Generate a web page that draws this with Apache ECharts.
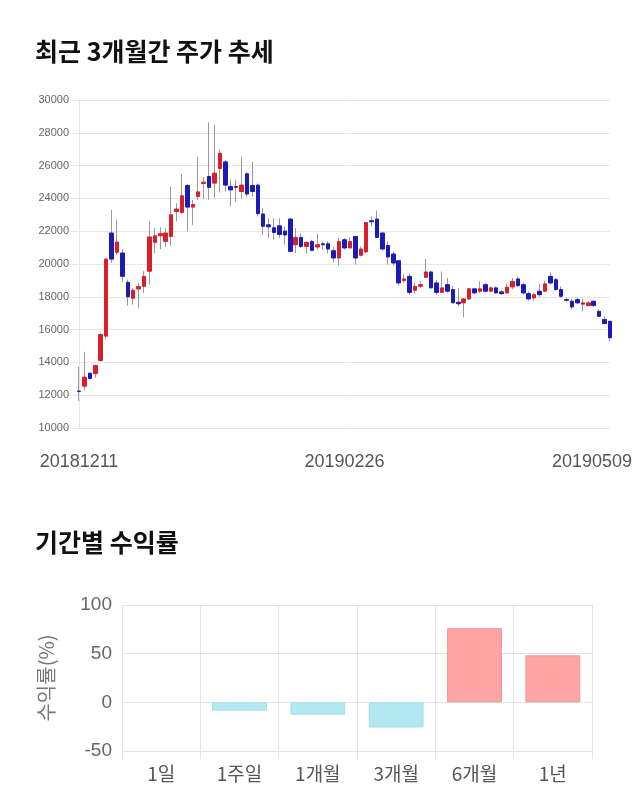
<!DOCTYPE html>
<html>
<head>
<meta charset="utf-8">
<script src="https://cdn.jsdelivr.net/npm/echarts@6/dist/echarts.min.js"></script>
<style>
html,body{margin:0;padding:0;background:#fff;}
#main{width:640px;height:810px;}
</style>
</head>
<body>
<div id="main"></div>
<script>
// ---- Candlestick data (KRW) ----
var dates = [
'20181211','20181212','20181213','20181214','20181217','20181218','20181219','20181220','20181221','20181224','20181226','20181227','20181228',
'20190102','20190103','20190104','20190107','20190108','20190109','20190110','20190111','20190114','20190115','20190116','20190117','20190118','20190121','20190122','20190123','20190124','20190125','20190128','20190129','20190130','20190131',
'20190201','20190207','20190208','20190211','20190212','20190213','20190214','20190215','20190218','20190219','20190220','20190221','20190222','20190225','20190226','20190227','20190228',
'20190304','20190305','20190306','20190307','20190308','20190311','20190312','20190313','20190314','20190315','20190318','20190319','20190320','20190321','20190322','20190325','20190326','20190327','20190328','20190329',
'20190401','20190402','20190403','20190404','20190405','20190408','20190409','20190410','20190411','20190412','20190415','20190416','20190417','20190418','20190419','20190422','20190423','20190424','20190425','20190426','20190429','20190430',
'20190502','20190503','20190507','20190508','20190509'
];
var opens  = [12250,12550,13340,13310,14115,15600,21890,20710,20670,18880,17910,18480,18640,19560,21320,21720,21380,21680,23200,23140,24790,23470,24115,24905,25335,24930,25825,26225,24730,24720,24420,25500,24785,24810,23050,22390,22210,22330,22010,22740,21175,21620,21070,21375,21035,21235,21235,20810,20365,21480,20975,21680,20530,20740,22640,22740,21890,21130,20610,20200,18985,19250,18395,18640,19185,19515,18845,18270,18740,18440,17670,17630,17870,18485,18340,18740,18340,18545,18300,18235,18600,19090,18740,18195,17930,18340,18340,19245,19045,18440,17830,17730,17830,17550,17460,17730,17115,16610,16510];
var closes = [12230,13100,13020,13810,15700,20300,20300,21340,19250,18000,18400,18620,19250,21650,21720,21850,21890,23000,23350,24160,23470,23630,24400,24990,24670,25540,26755,24810,24520,24680,24810,24265,24420,23070,22300,22270,21925,21800,21770,20770,21620,21070,21315,20830,21175,21175,20915,20365,21375,20975,21375,20365,20915,22530,22575,21620,20915,20430,20060,18845,19090,18270,18640,18740,19515,18545,18270,18545,18340,17630,17575,17870,18485,18235,18485,18340,18545,18235,18195,18585,18940,18680,18235,17870,18130,18130,18785,18845,18440,18030,17790,17380,17630,17630,17630,17460,16810,16370,15500];
var lows   = [11650,12300,12950,13060,14050,15400,20060,20560,18880,17460,17520,17300,18240,18740,20670,20910,21030,21120,22600,23060,21985,22390,23910,23955,23910,24020,24360,24420,23510,23810,24020,24100,24120,22900,21780,21580,21480,21580,21175,20700,20670,20975,20630,20790,20870,20870,20650,20100,19900,20870,20975,19960,20450,20670,22290,21580,20800,19960,19900,18680,18845,18130,18190,18540,19150,18480,18130,18270,18235,17630,17420,16750,17830,18180,18235,18280,18290,18180,18120,18180,18450,18600,18130,17770,17770,17990,18290,18740,18380,17930,17700,17220,17550,17120,17420,17400,16770,16370,15290];
var highs  = [13750,14650,13400,13870,15760,20350,23300,22700,20920,19050,18540,18850,19560,22600,22190,22250,22190,24720,23710,25480,24870,23910,26550,25300,28640,28500,27000,26350,25130,25130,26550,25600,26250,24900,23410,22800,22800,22800,22290,22800,22190,21890,21375,21480,21830,21375,21375,21070,21580,21580,21630,21680,21070,22530,22900,23260,21950,21380,20750,20200,19410,19410,18845,18950,20305,19580,19020,19550,19150,18640,18540,17930,18540,18540,18950,18850,18640,18640,18400,18800,19150,19240,18850,18330,18250,18780,18990,19490,19150,18640,17950,17870,17950,17870,17730,17780,17260,16810,16510];
var priceTicks = [10000, 30000, 2000]; // min, max, step

// ---- Return data (%) ----
var periods = ['1일','1주일','1개월','3개월','6개월','1년'];
var returns = [0, -8.6, -12.8, -25.9, 76.2, 48.3];
var returnTicks = [-50, 100, 50]; // min, max, step

var wickData = dates.map(function(d,i){ return [opens[i], closes[i], lows[i], highs[i]]; });
var bodyData = dates.map(function(d,i){ return [opens[i], closes[i], Math.min(opens[i],closes[i]), Math.max(opens[i],closes[i])]; });

var UP = '#d7202a', DOWN = '#1b1bb8';
var FONT = '"Noto Sans CJK KR", "Noto Sans", sans-serif';
var NUMFONT = '"Liberation Sans", Arial, sans-serif';
var lastIdx = dates.length - 1;

var chart = echarts.init(document.getElementById('main'), null, {renderer:'canvas'});
chart.setOption({
  animation: false,
  backgroundColor: '#fff',
  textStyle: {fontFamily: FONT},
  title: [
    {text: '최근 3개월간 주가 추세', left: 30, top: 34, textStyle: {fontSize: 25, fontWeight: 'bold', color: '#111', fontFamily: FONT}},
    {text: '기간별 수익률', left: 30, top: 525, textStyle: {fontSize: 25, fontWeight: 'bold', color: '#111', fontFamily: FONT}}
  ],
  grid: [
    {left: 79, right: 30, top: 100, height: 328},
    {left: 122, right: 48, top: 605, height: 146}
  ],
  xAxis: [
    {
      type: 'category', gridIndex: 0, data: dates, boundaryGap: false,
      axisLine: {show: false}, axisTick: {show: false},
      splitLine: {show: false},
      axisLabel: {
        interval: 48, fontSize: 18, color: '#555', margin: 25, fontFamily: NUMFONT,
        formatter: function(v, idx){ return idx === lastIdx ? '{r|' + v + '}' : v; },
        rich: {r: {fontSize: 18, color: '#555', fontFamily: NUMFONT, padding: [0, 36, 0, 0]}}
      }
    },
    {
      type: 'category', gridIndex: 1, data: periods, boundaryGap: true,
      axisLine: {show: false, onZero: false},
      axisTick: {show: true, length: 8, lineStyle: {color: '#e3e3e3'}},
      splitLine: {show: true, lineStyle: {color: '#e3e3e3'}},
      axisLabel: {fontSize: 19, color: '#555', margin: 13, fontFamily: FONT}
    }
  ],
  yAxis: [
    {
      type: 'value', gridIndex: 0, min: priceTicks[0], max: priceTicks[1], interval: priceTicks[2],
      axisLine: {show: true, lineStyle: {color: '#e6e6e6'}},
      axisTick: {show: true, length: 9, lineStyle: {color: '#e6e6e6'}},
      splitLine: {lineStyle: {color: '#e6e6e6'}},
      axisLabel: {fontSize: 11, color: '#666', margin: 10, fontFamily: NUMFONT,
        formatter: function(v){ return String(v); }}
    },
    {
      type: 'value', gridIndex: 1, min: returnTicks[0], max: returnTicks[1], interval: returnTicks[2],
      axisLine: {show: false}, axisTick: {show: false},
      splitLine: {lineStyle: {color: '#e3e3e3'}},
      axisLabel: {fontSize: 19, color: '#666', margin: 10, fontFamily: NUMFONT},
      name: '수익률(%)', nameLocation: 'middle', nameGap: 66, nameRotate: 90,
      nameTextStyle: {fontSize: 20, color: '#777', fontFamily: FONT}
    }
  ],
  series: [
    {
      type: 'candlestick', xAxisIndex: 0, yAxisIndex: 0, data: wickData, barWidth: 1,
      itemStyle: {color: '#9a9a9a', color0: '#9a9a9a', borderColor: '#9a9a9a', borderColor0: '#9a9a9a', borderWidth: 1}
    },
    {
      type: 'candlestick', xAxisIndex: 0, yAxisIndex: 0, data: bodyData, barWidth: 4,
      itemStyle: {color: UP, color0: DOWN, borderColor: UP, borderColor0: DOWN, borderWidth: 1}
    },
    {
      type: 'bar', xAxisIndex: 1, yAxisIndex: 1, barWidth: '70%',
      data: returns.map(function(v){
        return {value: v, itemStyle: v > 0
          ? {color: '#ffa5a5', borderColor: '#f29595', borderWidth: 1}
          : (v < 0 ? {color: '#b2e8f2', borderColor: '#a6dfeb', borderWidth: 1}
                   : {color: 'rgba(0,0,0,0)', borderWidth: 0})};
      })
    }
  ]
});
</script>
</body>
</html>
